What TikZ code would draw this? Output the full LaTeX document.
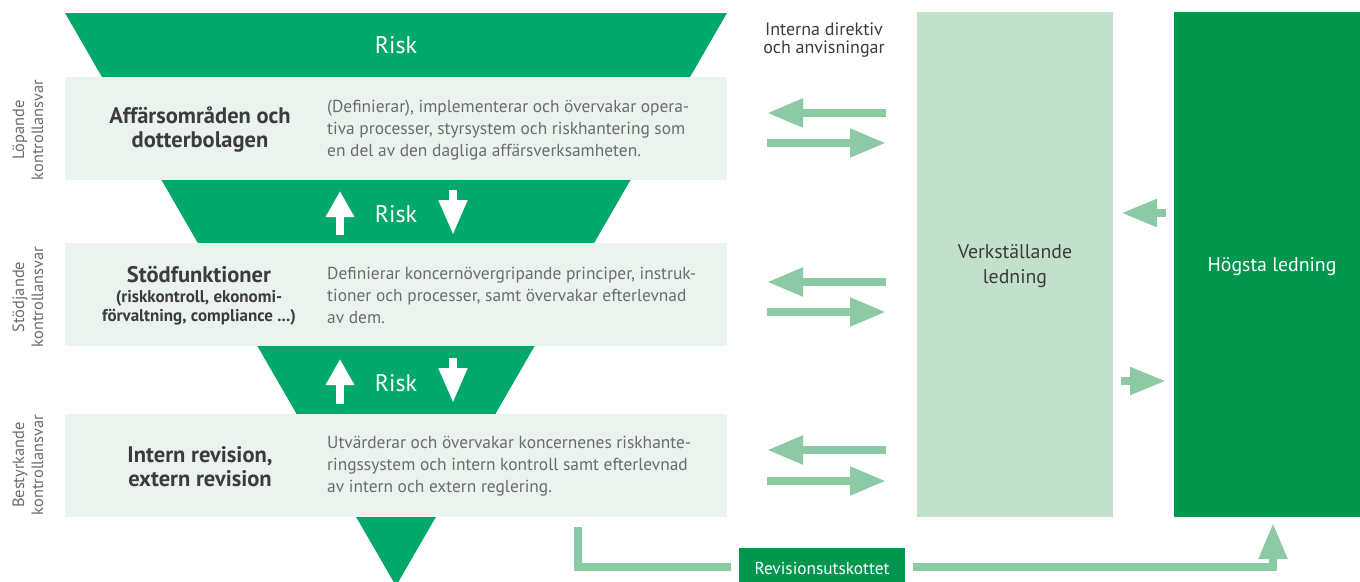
\documentclass[tikz,border=0pt]{standalone}
\usepackage{fontspec}
\setmainfont{PT Sans}
\usetikzlibrary{arrows.meta}
\definecolor{gmain}{RGB}{0,168,107}
\definecolor{gdark}{RGB}{0,150,77}
\definecolor{glight}{RGB}{234,243,237}
\definecolor{gmid}{RGB}{194,224,202}
\definecolor{garrow}{RGB}{140,201,165}
\definecolor{tdark}{RGB}{60,60,60}
\definecolor{tgray}{RGB}{108,108,108}
\tikzset{
  lightbox/.style={fill=glight, inner sep=0pt, minimum width=662pt, minimum height=103pt},
  titletxt/.style={text=tdark, font=\fontsize{22.5}{23.5}\selectfont\bfseries, align=center, inner sep=0pt},
  subtxt/.style={text=tdark, font=\fontsize{17}{18.5}\selectfont\bfseries, align=center, inner sep=0pt},
  desctxt/.style={text=tgray, font=\fontsize{17.4}{22}\selectfont, align=left, anchor=west, inner sep=0pt},
  sidetxt/.style={text=tgray, font=\fontsize{16.4}{19}\selectfont, align=center, rotate=90, inner sep=0pt},
  risktxt/.style={text=white, font=\fontsize{24}{28}\selectfont, inner sep=0pt},
  whitearrow/.style={draw=white, line width=8pt},
  bigarrow/.style={draw=garrow, line width=8pt, -{Triangle[length=36pt,width=27pt]}},
  connline/.style={draw=garrow, line width=8pt, line join=miter},
}
\begin{document}
\begin{tikzpicture}[x=1pt,y=-1pt]
\useasboundingbox (0,0) rectangle (1360,581);
\clip (0,0) rectangle (1360,581);
% big risk triangle
\fill[gmain] (65,13) -- (727,13) -- (396,586) -- cycle;
% light boxes
\node[lightbox] (b1) at (396,128.5) {};
\node[lightbox] (b2) at (396,294.5) {};
\node[lightbox] (b3) at (396,465.5) {};
% risk labels
\node[risktxt] (r1) at (396,45) {Risk};
\node[risktxt] (r2) at (396,214) {Risk};
\node[risktxt] (r3) at (396,383) {Risk};
% up/down arrows
\coordinate (u1s) at (340,235); \coordinate (u1e) at (340,191);
\coordinate (d1s) at (453,190); \coordinate (d1e) at (453,235);
\coordinate (u2s) at (340,404); \coordinate (u2e) at (340,359);
\coordinate (d2s) at (453,358); \coordinate (d2e) at (453,403);
\draw[whitearrow, -{Triangle[length=26pt,width=27pt]}] (u1s) -- (u1e);
\draw[whitearrow, -{Triangle[length=35pt,width=27pt]}] (d1s) -- (d1e);
\draw[whitearrow, -{Triangle[length=26pt,width=27pt]}] (u2s) -- (u2e);
\draw[whitearrow, -{Triangle[length=35pt,width=27pt]}] (d2s) -- (d2e);
% side labels
\node[sidetxt] (s1) at (28,130) {Löpande\\kontrollansvar};
\node[sidetxt] (s2) at (28,297) {Stödjande\\kontrollansvar};
\node[sidetxt] (s3) at (28,465) {Bestyrkande\\kontrollansvar};
% titles
\node[titletxt] (t1) at (200,129.5) {Affärsområden och\\dotterbolagen};
\node[titletxt] (t2) at (199,275) {Stödfunktioner};
\node[subtxt] (t2b) at (199,308) {(riskkontroll, ekonomi-\\förvaltning, compliance ...)};
\node[titletxt] (t3) at (200,466.5) {Intern revision,\\extern revision};
% descriptions
\node[desctxt] (e1) at (327,130) {(Definierar), implementerar och övervakar opera-\\tiva processer, styrsystem och riskhantering som\\en del av den dagliga affärsverksamheten.};
\node[desctxt] (e2) at (327,295.5) {Definierar koncernövergripande principer, instruk-\\tioner och processer, samt övervakar efterlevnad\\av dem.};
\node[desctxt] (e3) at (327,466.5) {Utvärderar och övervakar koncernenes riskhante-\\ringssystem och intern kontroll samt efterlevnad\\av intern och extern reglering.};
% right boxes
\node[fill=gmid, minimum width=196pt, minimum height=505pt, inner sep=0pt] (vl) at (1015,264.5) {};
\node[text=tdark, font=\fontsize{19.8}{25}\selectfont, align=center, inner sep=0pt] (vlt) at (1015,266) {Verkställande\\ledning};
\node[fill=gdark, minimum width=190pt, minimum height=505pt, inner sep=0pt] (hl) at (1269,264.5) {};
\node[text=white, font=\fontsize{19.8}{22}\selectfont, inner sep=0pt] (hlt) at (1272,267) {Högsta ledning};
\node[text=tdark, font=\fontsize{18}{18.5}\selectfont, align=center, inner sep=0pt] (idir) at (824,40) {Interna direktiv\\och anvisningar};
% arrow pairs
\coordinate (pa1) at (886,113); \coordinate (pa2) at (767,113);
\coordinate (pb1) at (767,143); \coordinate (pb2) at (886,143);
\coordinate (qa1) at (886,282); \coordinate (qa2) at (767,282);
\coordinate (qb1) at (767,312); \coordinate (qb2) at (886,312);
\coordinate (wa1) at (886,450); \coordinate (wa2) at (767,450);
\coordinate (wb1) at (767,481); \coordinate (wb2) at (886,481);
\draw[bigarrow] (pa1) -- (pa2);
\draw[bigarrow] (pb1) -- (pb2);
\draw[bigarrow] (qa1) -- (qa2);
\draw[bigarrow] (qb1) -- (qb2);
\draw[bigarrow] (wa1) -- (wa2);
\draw[bigarrow] (wb1) -- (wb2);
% between boxes
\coordinate (m1s) at (1166,213); \coordinate (m1e) at (1121,213);
\coordinate (m2s) at (1121,381); \coordinate (m2e) at (1166,381);
\draw[bigarrow, -{Triangle[length=36pt,width=26pt]}] (m1s) -- (m1e);
\draw[bigarrow, -{Triangle[length=36pt,width=26pt]}] (m2s) -- (m2e);
% revisionsutskottet
\node[fill=gdark, minimum width=166pt, minimum height=38pt, inner sep=0pt] (rev) at (822,567) {};
\node[text=white, font=\fontsize{17.3}{18}\selectfont, inner sep=0pt] (revt) at (822,568) {Revisionsutskottet};
\coordinate (lstart) at (577.5,527);
\coordinate (lend) at (731,567);
\draw[connline] (lstart) -- (577.5,567) -- (lend);
\coordinate (rstart) at (913,567);
\coordinate (rtip) at (1273,523);
\draw[connline, -{Triangle[length=36pt,width=27pt]}] (rstart) -- (1273,567) -- (rtip);
\end{tikzpicture}
\end{document}
